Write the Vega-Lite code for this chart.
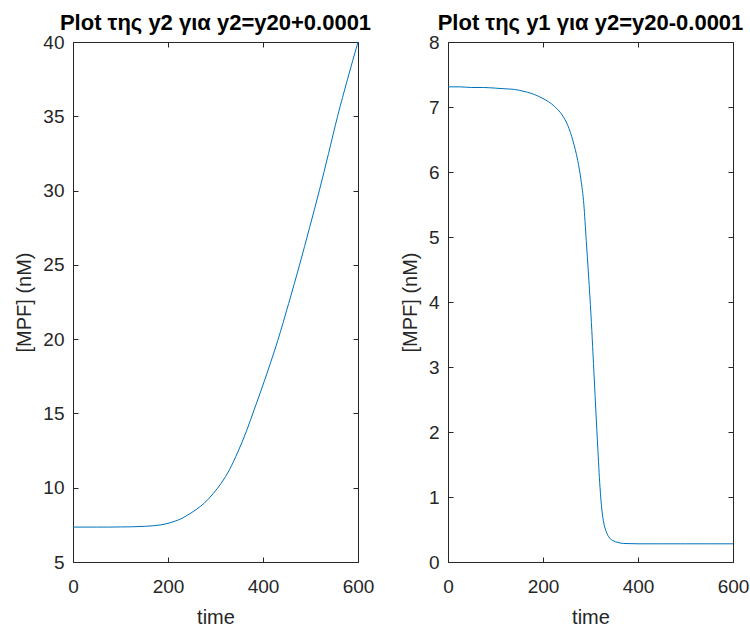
{
  "$schema": "https://vega.github.io/schema/vega-lite/v6.json",
  "background": "white",
  "padding": {"left": 14, "top": 12, "right": 5, "bottom": 5},
  "bounds": "flush",
  "spacing": 90,
  "config": {
    "view": {"stroke": null},
    "font": "Liberation Sans",
    "axis": {
      "domainColor": "#262626", "domainWidth": 1,
      "tickColor": "#262626", "tickSize": -5, "tickWidth": 1,
      "labelColor": "#262626", "labelFont": "Liberation Sans", "labelFontSize": 19,
      "labelPadding": 14, "labelFlush": false,
      "titleFont": "Liberation Sans", "titleFontSize": 20, "titleFontWeight": "normal", "titleColor": "#262626",
      "grid": false
    },
    "axisBottom": {"labelPadding": 20, "titlePadding": 11},
    "title": {"font": "Liberation Sans", "fontSize": 22, "fontWeight": "bold", "color": "#000000", "offset": -2}
  },
  "datasets": {
    "y2": [
      {"t": 0, "v": 7.35}, {"t": 25, "v": 7.35}, {"t": 50, "v": 7.35}, {"t": 75, "v": 7.35},
      {"t": 100, "v": 7.36}, {"t": 125, "v": 7.37}, {"t": 150, "v": 7.4}, {"t": 170, "v": 7.44},
      {"t": 185, "v": 7.5}, {"t": 200, "v": 7.6}, {"t": 215, "v": 7.75}, {"t": 230, "v": 7.95},
      {"t": 241, "v": 8.15}, {"t": 260, "v": 8.55}, {"t": 276, "v": 8.95}, {"t": 295, "v": 9.6},
      {"t": 312, "v": 10.3}, {"t": 330, "v": 11.25}, {"t": 347, "v": 12.4}, {"t": 365, "v": 13.8},
      {"t": 382, "v": 15.3}, {"t": 403, "v": 17.2}, {"t": 431, "v": 19.9}, {"t": 454, "v": 22.4},
      {"t": 477, "v": 25.0}, {"t": 498, "v": 27.5}, {"t": 519, "v": 30.05}, {"t": 538, "v": 32.5},
      {"t": 557, "v": 35.0}, {"t": 578, "v": 37.5}, {"t": 600, "v": 40.0}
    ],
    "y1": [
      {"t": 0, "v": 7.31}, {"t": 25, "v": 7.31}, {"t": 50, "v": 7.3}, {"t": 75, "v": 7.3},
      {"t": 100, "v": 7.29}, {"t": 120, "v": 7.28}, {"t": 140, "v": 7.27}, {"t": 160, "v": 7.24},
      {"t": 175, "v": 7.21}, {"t": 189, "v": 7.17}, {"t": 200, "v": 7.13}, {"t": 212, "v": 7.08},
      {"t": 224, "v": 7.01}, {"t": 240, "v": 6.88}, {"t": 252, "v": 6.72}, {"t": 263, "v": 6.48},
      {"t": 273, "v": 6.18}, {"t": 280, "v": 5.88}, {"t": 286, "v": 5.5}, {"t": 291, "v": 4.95},
      {"t": 296, "v": 4.4}, {"t": 301, "v": 3.8}, {"t": 308, "v": 2.8}, {"t": 315, "v": 1.8},
      {"t": 320, "v": 1.15}, {"t": 324, "v": 0.8}, {"t": 328, "v": 0.6}, {"t": 333, "v": 0.47},
      {"t": 340, "v": 0.37}, {"t": 347, "v": 0.33}, {"t": 358, "v": 0.3}, {"t": 370, "v": 0.285},
      {"t": 400, "v": 0.28}, {"t": 450, "v": 0.28}, {"t": 500, "v": 0.28}, {"t": 550, "v": 0.28},
      {"t": 600, "v": 0.28}
    ]
  },
  "hconcat": [
    {
      "width": 285, "height": 520,
      "title": {"text": "Plot της y2 για y2=y20+0.0001"},
      "data": {"name": "y2"},
      "layer": [
        {
          "mark": {"type": "line", "color": "#0072BD", "strokeWidth": 1, "interpolate": "monotone"},
          "encoding": {
            "x": {"field": "t", "type": "quantitative", "scale": {"domain": [0, 600], "nice": false},
                  "axis": {"values": [0, 200, 400, 600], "title": "time"}},
            "y": {"field": "v", "type": "quantitative", "scale": {"domain": [5, 40], "nice": false, "zero": false},
                  "axis": {"values": [5, 10, 15, 20, 25, 30, 35, 40], "title": "[MPF] (nM)", "titlePadding": 8}}
          }
        },
        {
          "mark": {"type": "line", "opacity": 0},
          "encoding": {
            "x": {"field": "t", "type": "quantitative", "scale": {"domain": [0, 600], "nice": false},
                  "axis": {"orient": "top", "values": [0, 200, 400, 600], "labels": false, "title": null}},
            "y": {"field": "v", "type": "quantitative", "scale": {"domain": [5, 40], "nice": false, "zero": false},
                  "axis": {"orient": "right", "values": [5, 10, 15, 20, 25, 30, 35, 40], "labels": false, "title": null}}
          }
        }
      ],
      "resolve": {"axis": {"x": "independent", "y": "independent"}}
    },
    {
      "width": 285, "height": 520,
      "title": {"text": "Plot της y1  για y2=y20-0.0001"},
      "data": {"name": "y1"},
      "layer": [
        {
          "mark": {"type": "line", "color": "#0072BD", "strokeWidth": 1, "interpolate": "monotone"},
          "encoding": {
            "x": {"field": "t", "type": "quantitative", "scale": {"domain": [0, 600], "nice": false},
                  "axis": {"values": [0, 200, 400, 600], "title": "time"}},
            "y": {"field": "v", "type": "quantitative", "scale": {"domain": [0, 8], "nice": false},
                  "axis": {"values": [0, 1, 2, 3, 4, 5, 6, 7, 8], "title": "[MPF] (nM)", "titlePadding": 8}}
          }
        },
        {
          "mark": {"type": "line", "opacity": 0},
          "encoding": {
            "x": {"field": "t", "type": "quantitative", "scale": {"domain": [0, 600], "nice": false},
                  "axis": {"orient": "top", "values": [0, 200, 400, 600], "labels": false, "title": null}},
            "y": {"field": "v", "type": "quantitative", "scale": {"domain": [0, 8], "nice": false},
                  "axis": {"orient": "right", "values": [0, 1, 2, 3, 4, 5, 6, 7, 8], "labels": false, "title": null}}
          }
        }
      ],
      "resolve": {"axis": {"x": "independent", "y": "independent"}}
    }
  ]
}
